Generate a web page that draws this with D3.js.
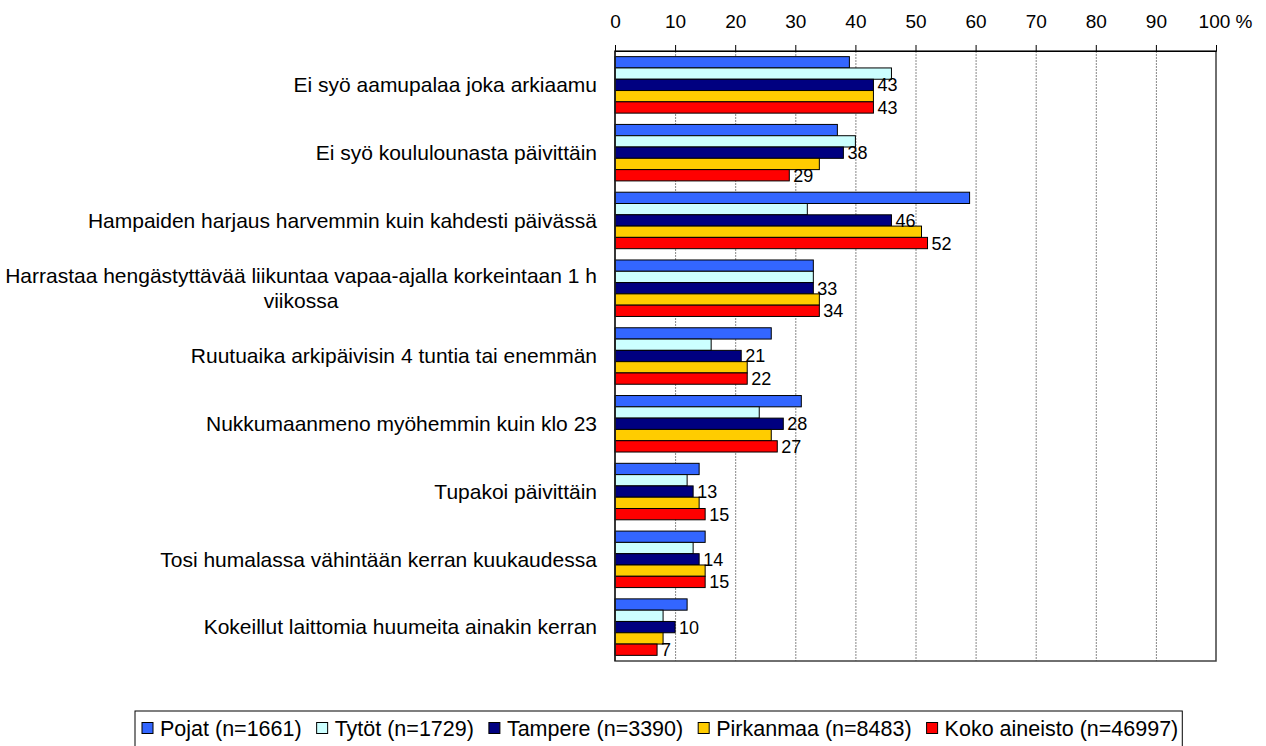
<!DOCTYPE html>
<html>
<head>
<meta charset="utf-8">
<script src="https://cdn.jsdelivr.net/npm/d3@7"></script>
<style>
  body { margin: 0; background: #fff; }
  svg { display: block; font-family: Arial, "Liberation Sans", sans-serif; }
</style>
</head>
<body>
<svg id="chart" width="1266" height="746"></svg>
<script>
// categories (line breaks as in the original)
const categories = [
  "Ei syö aamupalaa joka arkiaamu",
  "Ei syö koululounasta päivittäin",
  "Hampaiden harjaus harvemmin kuin kahdesti päivässä",
  "Harrastaa hengästyttävää liikuntaa vapaa-ajalla korkeintaan 1 h\nviikossa",
  "Ruutuaika arkipäivisin 4 tuntia tai enemmän",
  "Nukkumaanmeno myöhemmin kuin klo 23",
  "Tupakoi päivittäin",
  "Tosi humalassa vähintään kerran kuukaudessa",
  "Kokeillut laittomia huumeita ainakin kerran"
];

const seriesNames = ["Pojat (n=1661)", "Tytöt (n=1729)", "Tampere (n=3390)", "Pirkanmaa (n=8483)", "Koko aineisto (n=46997)"];
const seriesColors = ["#3366ff", "#ccffff", "#000080", "#ffcc00", "#ff0000"];

const pojat      = [39, 37, 59, 33, 26, 31, 14, 15, 12];
const tytot      = [46, 40, 32, 33, 16, 24, 12, 13, 8];
const tampere    = [43, 38, 46, 33, 21, 28, 13, 14, 10];
const pirkanmaa  = [43, 34, 51, 34, 22, 26, 14, 15, 8];
const kokoAineisto = [43, 29, 52, 34, 22, 27, 15, 15, 7];

// only these series carry value labels in the original
const labelledSeries = [2, 4];

const tickValues = [0, 10, 20, 30, 40, 50, 60, 70, 80, 90, 100];
const tickLabels = ["0", "10", "20", "30", "40", "50", "60", "70", "80", "90", "100 %"];

const values = [pojat, tytot, tampere, pirkanmaa, kokoAineisto];

const svg = d3.select("#chart");
const plotLeft = 615, plotRight = 1216, plotTop = 51, plotBottom = 661;

const x = d3.scaleLinear().domain([0, 100]).range([plotLeft, plotRight]);
const y = d3.scaleBand().domain(categories).range([plotTop, plotBottom]);
const bw = y.bandwidth();
const ySeries = d3.scaleBand().domain(d3.range(seriesNames.length))
  .range([bw / 12, bw * 11 / 12]);

// gridlines
svg.append("g")
  .selectAll("line")
  .data(tickValues.slice(1, -1))
  .join("line")
  .attr("x1", d => x(d) + 0.5).attr("x2", d => x(d) + 0.5)
  .attr("y1", plotTop).attr("y2", plotBottom)
  .attr("stroke", "#888")
  .attr("stroke-dasharray", "2,1");

// bars
const groups = svg.append("g")
  .selectAll("g")
  .data(categories)
  .join("g")
  .attr("transform", d => `translate(0,${y(d)})`);

groups.selectAll("rect")
  .data((d, ci) => values.map((v, si) => ({ si, v: v[ci] })))
  .join("rect")
  .attr("x", x(0))
  .attr("y", d => ySeries(d.si))
  .attr("width", d => x(d.v) - x(0))
  .attr("height", ySeries.bandwidth())
  .attr("fill", d => seriesColors[d.si])
  .attr("stroke", "#000")
  .attr("stroke-width", 1);

groups.selectAll("text.val")
  .data((d, ci) => labelledSeries.map(si => ({ si, v: values[si][ci] })))
  .join("text")
  .attr("class", "val")
  .attr("x", d => x(d.v) + 4)
  .attr("y", d => ySeries(d.si) + ySeries.bandwidth() / 2)
  .attr("dy", "0.36em")
  .attr("font-size", 18)
  .attr("fill", "#000")
  .text(d => d.v);

// plot frame
svg.append("rect")
  .attr("x", plotLeft).attr("y", plotTop)
  .attr("width", plotRight - plotLeft).attr("height", plotBottom - plotTop)
  .attr("fill", "none")
  .attr("stroke", "#404040")
  .attr("stroke-width", 1.5);

// top axis
const axis = svg.append("g")
  .attr("transform", `translate(0,${plotTop})`)
  .call(d3.axisTop(x).tickValues(tickValues).tickSize(6).tickPadding(17)
    .tickFormat((d, i) => tickLabels[i]));
axis.select(".domain").attr("stroke", "#000");
axis.selectAll("text").attr("font-size", 19).attr("fill", "#000")
  .attr("font-family", "Arial, 'Liberation Sans', sans-serif");
axis.selectAll(".tick").filter(d => d === 100).select("text").attr("dx", 9);

// left axis line
svg.append("line")
  .attr("x1", plotLeft).attr("x2", plotLeft).attr("y1", plotTop).attr("y2", plotBottom)
  .attr("stroke", "#000");

// category labels
const catLabels = svg.append("g").attr("font-size", 21).attr("fill", "#000");
categories.forEach(c => {
  const lines = c.split("\n");
  const lh = 25;
  const cy = y(c) + bw / 2;
  const t = catLabels.append("text").attr("text-anchor", "middle");
  lines.forEach((ln, i) => {
    t.append("tspan")
      .attr("x", 0)
      .attr("y", cy + (i - (lines.length - 1) / 2) * lh)
      .attr("dy", "0.35em")
      .text(ln);
  });
  const w = t.node().getBBox().width;
  t.selectAll("tspan").attr("x", 597 - w / 2);
});

// legend
const legend = svg.append("g");
const legendBox = legend.append("rect")
  .attr("fill", "#fff").attr("stroke", "#000").attr("stroke-width", 1);
let lx = 142;
const ly = 728;
seriesNames.forEach((name, i) => {
  legend.append("rect")
    .attr("x", lx).attr("y", ly - 5.5).attr("width", 11).attr("height", 11)
    .attr("fill", seriesColors[i]).attr("stroke", "#000");
  const t = legend.append("text")
    .attr("x", lx + 18).attr("y", ly).attr("dy", "0.35em")
    .attr("font-size", 21.5).attr("fill", "#000")
    .text(name);
  lx += 18 + t.node().getComputedTextLength();
  if (i < seriesNames.length - 1) lx += 15;
});
legendBox.attr("x", 135).attr("y", 711).attr("width", lx + 4 - 135).attr("height", 40);
</script>
</body>
</html>
